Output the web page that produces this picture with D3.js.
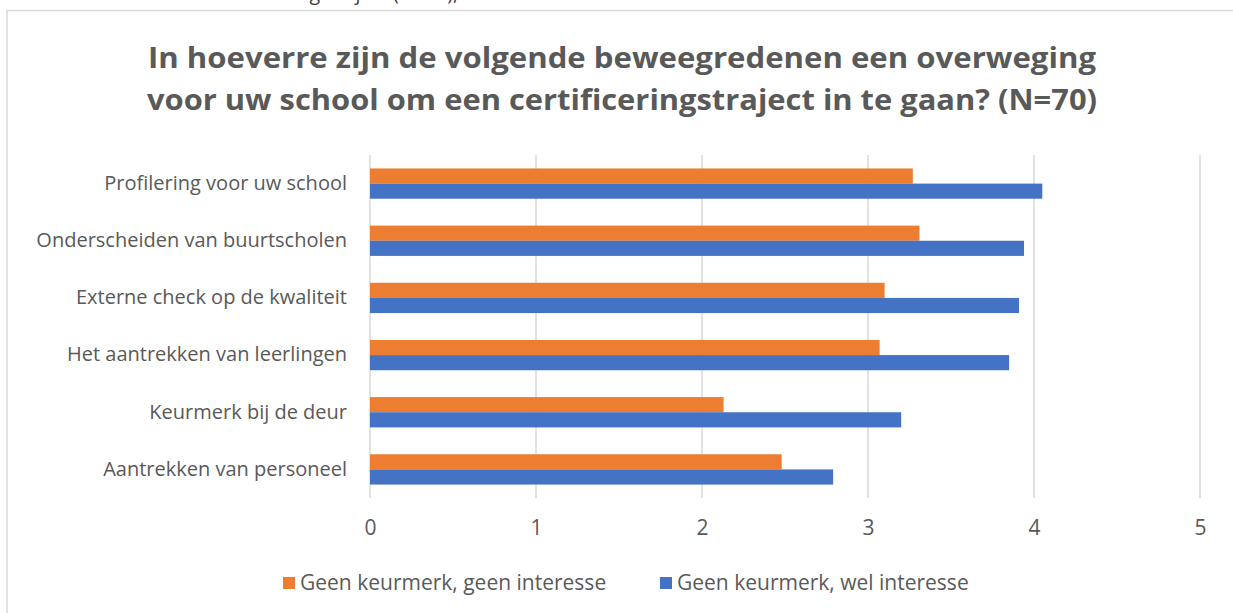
<!DOCTYPE html>
<html>
<head>
<meta charset="utf-8">
<script src="https://cdn.jsdelivr.net/npm/d3@7"></script>
<style>
  body { margin: 0; background: #fff; }
  svg { display: block; }
</style>
</head>
<body>
<div id="chart-area"></div>
<script>

// Categories (top to bottom) and series values
const categories = [
    "Profilering voor uw school",
    "Onderscheiden van buurtscholen",
    "Externe check op de kwaliteit",
    "Het aantrekken van leerlingen",
    "Keurmerk bij de deur",
    "Aantrekken van personeel"
];
const seriesNames = ["Geen keurmerk, geen interesse", "Geen keurmerk, wel interesse"];
const geenInteresse = [3.27, 3.31, 3.10, 3.07, 2.13, 2.48];
const welInteresse = [4.05, 3.94, 3.91, 3.85, 3.20, 2.79];
const xTicks = [0, 1, 2, 3, 4, 5];
const titleLines = [
    "In hoeverre zijn de volgende beweegredenen een overweging",
    "voor uw school om een certificeringstraject in te gaan? (N=70)"
];

const colors = ["#ED7D31", "#4472C4"];
const textColor = "#595959";
const gridColor = "#d9d9d9";

// Overall size
let W = 1233, H = 613;
let margin = {top: 155, right: 33, bottom: 115, left: 370};
let width = 1200 - margin.left;
let height = 498 - margin.top;

let svg = d3.select("#chart-area").append("svg")
    .attr("width", W)
    .attr("height", H)
    .style("font-family", "'Open Sans', sans-serif");

// cut-off caption line above the chart frame
svg.append("text")
    .attr("x", 27)
    .attr("y", 0)
    .attr("fill", "#404040")
    .style("font-size", "20px")
    .attr("textLength", 431)
    .attr("lengthAdjust", "spacingAndGlyphs")
    .text("Scholen zonder een certificeringstraject (N=70),");

// chart frame (runs off the right and bottom edge)
svg.append("rect")
    .attr("x", 7)
    .attr("y", 10.5)
    .attr("width", W + 10)
    .attr("height", H + 10)
    .attr("fill", "white")
    .attr("stroke", gridColor)
    .attr("stroke-width", 1.5);

// Title
svg.append("g")
    .selectAll("text")
    .data(titleLines)
    .enter()
    .append("text")
    .attr("x", 622)
    .attr("y", (d, i) => 68 + i * 42)
    .attr("text-anchor", "middle")
    .attr("fill", textColor)
    .style("font-size", "28px")
    .style("font-weight", "bold")
    .attr("textLength", (d, i) => i === 0 ? 948 : 950)
    .attr("lengthAdjust", "spacingAndGlyphs")
    .text(d => d);

let g = svg.append("g")
    .attr("transform", "translate(" + margin.left + "," + margin.top + ")");

// Scales
let x = d3.scaleLinear().domain([0, 5]).range([0, width]);
let y = d3.scaleBand().domain(categories).range([0, height]).paddingInner(0.47).paddingOuter(0.235);
let ySub = d3.scaleBand().domain([0, 1]).range([0, y.bandwidth()]);

// Gridlines
g.append("g")
    .selectAll("line")
    .data(xTicks)
    .enter()
    .append("line")
    .attr("x1", d => x(d))
    .attr("x2", d => x(d))
    .attr("y1", 0)
    .attr("y2", height)
    .attr("stroke", gridColor)
    .attr("stroke-width", 1.5);

// X axis labels
let xAxis = g.append("g")
    .attr("transform", `translate(0,${height})`)
    .call(d3.axisBottom(x).tickValues(xTicks).tickSize(0).tickPadding(22).tickFormat(d3.format("d")));
xAxis.select(".domain").remove();
xAxis.selectAll("text")
    .attr("fill", textColor)
    .style("font-size", "21px")
    .style("font-family", "'Open Sans', sans-serif");

// Y axis labels
let yAxis = g.append("g")
    .call(d3.axisLeft(y).tickSize(0).tickPadding(23));
yAxis.select(".domain").remove();
yAxis.selectAll("text")
    .attr("fill", textColor)
    .style("font-size", "20px")
    .style("font-family", "'Open Sans', sans-serif");

// Bars
let rows = categories.map((c, i) => ({cat: c, values: [geenInteresse[i], welInteresse[i]]}));

let groups = g.selectAll(".cat")
    .data(rows)
    .enter()
    .append("g")
    .attr("transform", d => `translate(0,${y(d.cat)})`);

groups.selectAll("rect")
    .data(d => d.values.map((v, k) => ({k: k, v: v})))
    .enter()
    .append("rect")
    .attr("x", x(0))
    .attr("y", d => ySub(d.k))
    .attr("width", d => x(d.v) - x(0))
    .attr("height", ySub.bandwidth())
    .attr("fill", d => colors[d.k]);

// Legend
let legendX = [283, 660];
let legend = svg.append("g")
    .selectAll("g")
    .data(seriesNames)
    .enter()
    .append("g")
    .attr("transform", (d, i) => `translate(${legendX[i]},577)`);

legend.append("rect")
    .attr("width", 12)
    .attr("height", 12)
    .attr("fill", (d, i) => colors[i]);

legend.append("text")
    .attr("x", 17)
    .attr("y", 13)
    .attr("fill", textColor)
    .style("font-size", "21px")
    .text(d => d);

</script>
</body>
</html>
